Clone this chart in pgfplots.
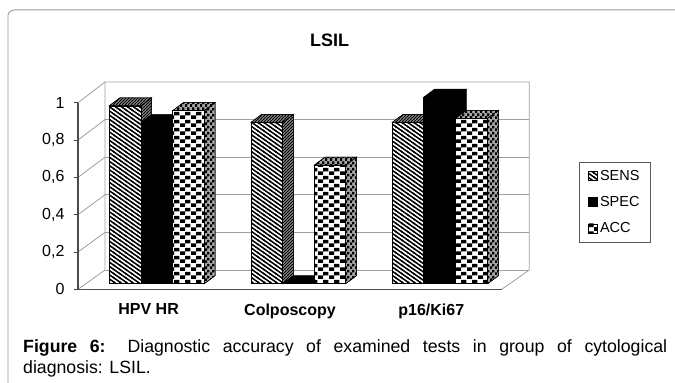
\documentclass[border=0pt]{standalone}
\usepackage{pgfplots}
\pgfplotsset{compat=1.18}
\usepackage{fontspec}
\setmainfont{Liberation Sans}
\usetikzlibrary{patterns}
\definecolor{wall}{gray}{0.62}
\definecolor{frameg}{gray}{0.6}
\definecolor{side}{gray}{0.65}
\definecolor{topc}{gray}{0.65}
\pgfdeclarepatternformonly{stripes}{\pgfqpoint{-1pt}{-1pt}}{\pgfqpoint{7pt}{5.2pt}}{\pgfqpoint{6pt}{4.2pt}}{%
  \pgfsetlinewidth{1.5pt}%
  \pgfpathmoveto{\pgfqpoint{-1pt}{4.9pt}}\pgfpathlineto{\pgfqpoint{7pt}{-0.7pt}}\pgfusepath{stroke}}
\pgfdeclarepatternformonly{stripesb}{\pgfqpoint{-1pt}{-1pt}}{\pgfqpoint{4pt}{4pt}}{\pgfqpoint{3pt}{3pt}}{%
  \pgfsetlinewidth{0.9pt}%
  \pgfpathmoveto{\pgfqpoint{-1pt}{-1pt}}\pgfpathlineto{\pgfqpoint{4pt}{4pt}}\pgfusepath{stroke}}
\pgfdeclarepatternformonly{checks}{\pgfpointorigin}{\pgfqpoint{10.6pt}{8pt}}{\pgfqpoint{10.6pt}{8pt}}{%
  \pgfpathrectangle{\pgfpointorigin}{\pgfqpoint{5.3pt}{4pt}}%
  \pgfpathrectangle{\pgfqpoint{5.3pt}{4pt}}{\pgfqpoint{5.3pt}{4pt}}\pgfusepath{fill}}
\pgfdeclarepatternformonly{checksb}{\pgfpointorigin}{\pgfqpoint{5pt}{6pt}}{\pgfqpoint{5pt}{6pt}}{%
  \pgfpathrectangle{\pgfpointorigin}{\pgfqpoint{2.5pt}{3pt}}%
  \pgfpathrectangle{\pgfqpoint{2.5pt}{3pt}}{\pgfqpoint{2.5pt}{3pt}}\pgfusepath{fill}}
% depth of the bars: 10.7 px across, 8 px up (8/186.5 of a unit)
\newcommand{\threedbar}[6]{% x0, x1, value, front style, side style, top style
  \pgfmathsetmacro{\xr}{#2+10.7}\pgfmathsetmacro{\xl}{#1+10.7}
  \pgfmathsetmacro{\yt}{#3+0.0429}
  \addplot[forget plot,draw=black,line width=0.5pt,#5] coordinates {(#2,0) (\xr,0.0429) (\xr,\yt) (#2,#3)} --cycle;
  \addplot[forget plot,draw=black,line width=0.5pt,#6] coordinates {(#1,#3) (#2,#3) (\xr,\yt) (\xl,\yt)} --cycle;
  \addplot[forget plot,draw=black,line width=0.5pt,#4] coordinates {(#1,0) (#2,0) (#2,#3) (#1,#3)} --cycle;
}
\tikzset{
  Sf/.style={fill=white,postaction={pattern=stripes}},
  Ss/.style={fill=side,postaction={pattern=stripesb}},
  St/.style={fill=topc,postaction={pattern=stripesb}},
  Bf/.style={fill=black},
  Cf/.style={fill=white,postaction={pattern=checks}},
  Cs/.style={fill=side,postaction={pattern=checksb}},
  Ct/.style={fill=topc,postaction={pattern=checksb}},
}
\begin{document}
\begin{tikzpicture}[x=1pt,y=1pt]
\path[use as bounding box] (0,0) rectangle (675,383);
\begin{axis}[
  at={(0pt,0pt)},anchor=south west,
  width=675pt,height=383pt,scale only axis,hide axis,clip=false,
  xmin=0,xmax=675,ymin=-0.5324,ymax=1.5212,
  legend cell align=left,
  legend style={at={(axis cs:579,0.653)},anchor=north west,draw=black!65,line width=0.7pt,
    font=\fontsize{14.5}{16}\selectfont,inner xsep=9pt,inner ysep=6pt,
    /tikz/every even column/.style={column sep=3pt},
    row sep=10.5pt},
]
% outer frame of the page panel: top and left rules only
\addplot[forget plot,frameg,line width=0.9pt] coordinates {(8,-0.5324) (8,1.4400) (9,1.4540) (11,1.4625) (14,1.4680) (675,1.4680)};
% back wall and floor
\addplot[forget plot,wall,line width=0.8pt] coordinates {(105,0.0735)(105,1.0815)(529.3,1.0815)(529.3,0.0735)(501.7,-0.0300)};
\addplot[forget plot,wall,line width=0.8pt] coordinates {(105,0.0735)(529.3,0.0735)};
\addplot[forget plot,wall,line width=0.8pt] coordinates {(105,0.2751)(529.3,0.2751)};
\addplot[forget plot,wall,line width=0.8pt] coordinates {(105,0.4767)(529.3,0.4767)};
\addplot[forget plot,wall,line width=0.8pt] coordinates {(105,0.6783)(529.3,0.6783)};
\addplot[forget plot,wall,line width=0.8pt] coordinates {(105,0.8799)(529.3,0.8799)};
% left wall
\addplot[forget plot,wall,line width=0.8pt] coordinates {(78,-0.0300)(105,0.0735)};
\addplot[forget plot,wall,line width=0.8pt] coordinates {(78,0.1700)(105,0.2751)};
\addplot[forget plot,wall,line width=0.8pt] coordinates {(78,0.3700)(105,0.4767)};
\addplot[forget plot,wall,line width=0.8pt] coordinates {(78,0.5700)(105,0.6783)};
\addplot[forget plot,wall,line width=0.8pt] coordinates {(78,0.7700)(105,0.8799)};
\addplot[forget plot,wall,line width=0.8pt] coordinates {(78,0.9700)(105,1.0815)};
% bars: HPV HR
\threedbar{109.3}{141}{0.954}{Sf}{Ss}{St}
\threedbar{141}{172.7}{0.865}{Bf}{Bf}{Bf}
\threedbar{172.7}{204.3}{0.928}{Cf}{Cs}{Ct}
% bars: Colposcopy
\threedbar{251}{282.7}{0.865}{Sf}{Ss}{St}
\threedbar{282.7}{314.3}{0.0}{Bf}{Bf}{Bf}
\threedbar{314.3}{345.7}{0.636}{Cf}{Cs}{Ct}
% bars: p16/Ki67
\threedbar{392.3}{423.7}{0.865}{Sf}{Ss}{St}
\threedbar{423.7}{455.7}{1.0}{Bf}{Bf}{Bf}
\threedbar{455.7}{487.7}{0.887}{Cf}{Cs}{Ct}
% legend
\addlegendimage{legend image code/.code={\path[draw=black,line width=0.5pt,fill=white,postaction={pattern=stripes}] (0pt,-4.5pt) rectangle (9pt,4.5pt);}}
\addlegendentry{SENS}
\addlegendimage{legend image code/.code={\path[draw=black,fill=black] (0pt,-4.5pt) rectangle (9pt,4.5pt);}}
\addlegendentry{SPEC}
\addlegendimage{legend image code/.code={\path[draw=black,line width=0.5pt,fill=white,postaction={pattern=checks}] (0pt,-4.5pt) rectangle (9pt,4.5pt);}}
\addlegendentry{ACC}
% title and caption
\node[font=\fontsize{18}{20}\selectfont\bfseries] at (axis cs:329.5,1.3067) {LSIL};
\node[anchor=north west,inner sep=0pt,text width=644pt,align=justify,font=\fontsize{17.7}{21.5}\selectfont] at (axis cs:23,-0.2980) {\textbf{Figure 6:} Diagnostic accuracy of examined tests in group of cytological\linebreak diagnosis: LSIL.};
\end{axis}
\begin{axis}[
  at={(78pt,93.7pt)},anchor=south west,
  width=423.7pt,height=186.6pt,scale only axis,clip=false,
  xmin=78,xmax=501.7,ymin=0,ymax=1,
  axis x line*=bottom,axis y line*=left,
  axis line style={black!70,line width=1.3pt,-},
  xtick={148.6,290,431.3},
  xticklabels={HPV HR,Colposcopy,p16/Ki67},
  major x tick style={draw=none},
  extra x ticks={78,219.3,361,501.7},
  extra x tick labels={},
  extra x tick style={tick style={black!75,line width=0.8pt,draw=black!75},major tick length=5pt,tickwidth=5pt},
  x tick label style={font=\fontsize{16}{16}\selectfont\bfseries,yshift=-7pt},
  ytick={0,0.2,0.4,0.6,0.8,1},
  yticklabels={0,{0,2},{0,4},{0,6},{0,8},1},
  y tick label style={font=\fontsize{16}{16}\selectfont,xshift=-6pt},
  y tick style={black!75,line width=0.8pt},
  tick align=outside,
  major tick length=4pt,
]
\addplot[draw=none,forget plot] coordinates {(78,0)};
\end{axis}
\end{tikzpicture}
\end{document}
